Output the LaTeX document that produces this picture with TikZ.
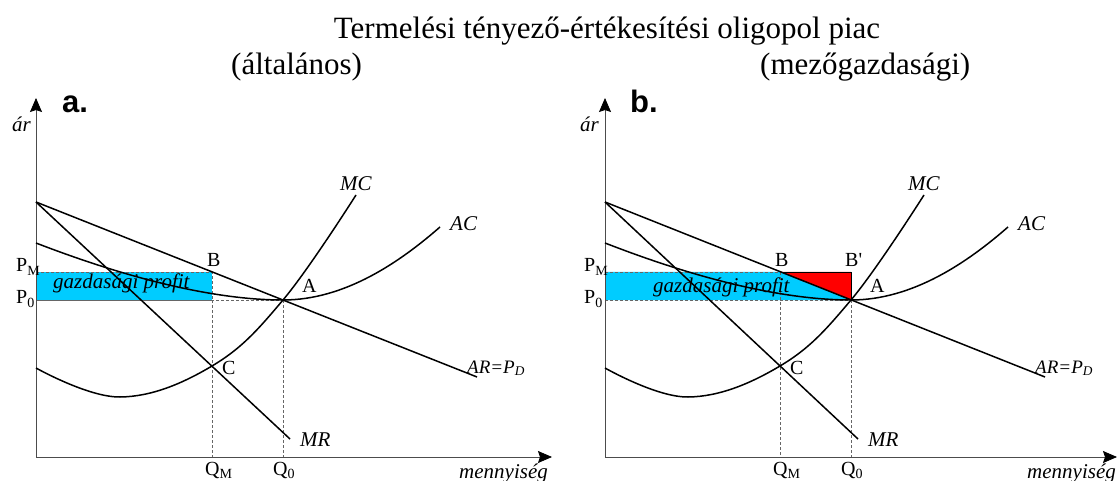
\documentclass[tikz,border=0pt]{standalone}
\usepackage{fontspec}
\setmainfont{Liberation Serif}
\newfontfamily\panelfont{Liberation Sans}
\usetikzlibrary{arrows.meta}
\definecolor{profitblue}{RGB}{0,204,255}
\definecolor{lossred}{RGB}{255,0,0}

\begin{document}
\begin{tikzpicture}[
				x=1pt, y=-1pt,
				axis/.style={draw=black!70, line width=0.8pt,
					-{Stealth[length=14pt, width=12pt, inset=2pt, color=black]}},
				curve/.style={line width=1.5pt},
				guide/.style={draw=black!60, line width=0.7pt, dash pattern=on 3pt off 2pt},
				head/.style={inner sep=0pt, font=\fontsize{31}{34}\selectfont},
				lbl/.style={inner sep=0pt, anchor=base west, font=\fontsize{20}{22}\selectfont},
				ilbl/.style={lbl, font=\fontsize{21}{23}\selectfont\itshape},
				panel/.style={inner sep=0pt, anchor=base west, font=\panelfont\bfseries\fontsize{31}{34}\selectfont}
				]
				\useasboundingbox (0,0) rectangle (1117,481);
				\node[head, anchor=base] (title) at (607,39)
				{Termelési tényező-értékesítési oligopol piac};
				\node[head, anchor=base west] (sub-a) at (231,75) {(általános)};
				\node[head, anchor=base west] (sub-b) at (760,75) {(mezőgazdasági)};
				
				% a. panel
				\coordinate (a-O) at (36,457);
				\coordinate (a-top) at (36,202);
				\coordinate (a-PM) at (36,272);
				\coordinate (a-P0) at (36,300);
				\coordinate (a-B) at (212,272);
				\coordinate (a-A) at (283,300);
				\coordinate (a-C) at (212,366);
				\coordinate (a-AR) at (477,377);
				\coordinate (a-MR) at (290,439);
				\draw[guide, fill=profitblue] (a-PM) rectangle (a-B |- a-P0);
				\draw[guide] (a-P0) -- (a-A);
				\draw[guide] (a-B |- a-P0) -- (a-B |- a-O);
				\draw[guide] (a-A) -- (a-A |- a-O);
				\draw[axis] (a-O) -- (36,98);
				\draw[axis] (a-O) -- (552,457);
				\draw[curve] (a-top) -- (a-AR);
				\draw[curve] (a-top) -- (a-MR);
				\draw[curve] (36,243) .. controls (150,287) and (230,300) .. (a-A)
				.. controls (345,300) and (400,262) .. (440,227);
				\draw[curve] plot[smooth, tension=0.65] coordinates
				{(36,368) (120,397) (a-C) (a-A) (356,195)};
				\node[panel] (a-name) at (62,113) {a.};
				\node[ilbl] (a-ar) at (12,132) {ár};
				\node[lbl] (a-pm) at (16,272) {P\textsubscript{M}};
				\node[lbl] (a-p0) at (16,304) {P\textsubscript{0}};
				\node[ilbl] (a-profit) at (53,289) {gazdasági profit};
				\node[lbl] (a-b) at (207,266) {B};
				\node[lbl] (a-a) at (302,293) {A};
				\node[lbl] (a-c) at (222,374) {C};
				\node[ilbl] (a-mc) at (340,191) {MC};
				\node[ilbl] (a-ac) at (450,231) {AC};
				\node[ilbl, font=\fontsize{19}{21}\selectfont\itshape] (a-arpd) at (467,373) {AR=P\textsubscript{D}};
				\node[ilbl] (a-mrl) at (300,446) {MR};
				\node[lbl] (a-qm) at (205,475) {Q\textsubscript{M}};
				\node[lbl] (a-q0) at (273,475) {Q\textsubscript{0}};
				\node[ilbl] (a-menny) at (459,478) {mennyiség};
				
				% b. panel
				\begin{scope}[shift={(568,0)}]
					\coordinate (b-O) at (37,457);
					\coordinate (b-top) at (37,202);
					\coordinate (b-PM) at (37,272);
					\coordinate (b-P0) at (37,300);
					\coordinate (b-B) at (212,272);
					\coordinate (b-Bp) at (283,272);
					\coordinate (b-A) at (283,300);
					\coordinate (b-C) at (212,366);
					\coordinate (b-AR) at (477,377);
					\coordinate (b-MR) at (290,439);
					\fill[profitblue] (b-PM) -- (b-B) -- (b-A) -- (b-P0) -- cycle;
					\draw[line width=0.8pt, fill=lossred] (b-B) -- (b-Bp) -- (b-A);
					\draw[guide] (b-PM) -- (b-B);
					\draw[guide] (b-P0) -- (b-A);
					\draw[guide] (b-B) -- (b-B |- b-O);
					\draw[guide] (b-A) -- (b-A |- b-O);
					\draw[axis] (b-O) -- (37,98);
					\draw[axis] (b-O) -- (549,457);
					\draw[curve] (b-top) -- (b-AR);
					\draw[curve] (b-top) -- (b-MR);
					\draw[curve] (37,243) .. controls (150,287) and (230,300) .. (b-A)
					.. controls (345,300) and (400,262) .. (440,227);
					\draw[curve] plot[smooth, tension=0.65] coordinates
					{(37,368) (120,397) (b-C) (b-A) (356,195)};
					\node[panel] (b-name) at (62,113) {b.};
					\node[ilbl] (b-ar) at (12,132) {ár};
					\node[lbl] (b-pm) at (16,272) {P\textsubscript{M}};
					\node[lbl] (b-p0) at (16,304) {P\textsubscript{0}};
					\node[ilbl] (b-profit) at (85,292) {gazdasági profit};
					\node[lbl] (b-b) at (207,266) {B};
					\node[lbl] (b-bp) at (277,266) {B\textquotesingle};
					\node[lbl] (b-a) at (302,293) {A};
					\node[lbl] (b-c) at (222,374) {C};
					\node[ilbl] (b-mc) at (340,191) {MC};
					\node[ilbl] (b-ac) at (450,231) {AC};
					\node[ilbl, font=\fontsize{19}{21}\selectfont\itshape] (b-arpd) at (467,373) {AR=P\textsubscript{D}};
					\node[ilbl] (b-mrl) at (300,446) {MR};
					\node[lbl] (b-qm) at (205,475) {Q\textsubscript{M}};
					\node[lbl] (b-q0) at (273,475) {Q\textsubscript{0}};
					\node[ilbl] (b-menny) at (459,478) {mennyiség};
				\end{scope}
			\end{tikzpicture}
\end{document}
